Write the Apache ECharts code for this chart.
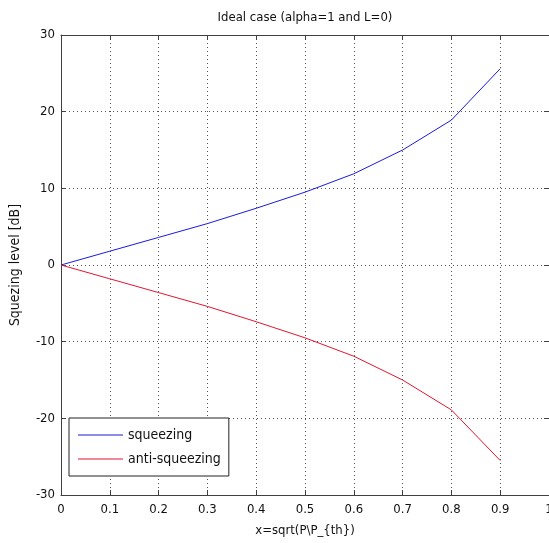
<!DOCTYPE html>
<html>
<head>
<meta charset="utf-8">
<script src="https://cdn.jsdelivr.net/npm/echarts@6/dist/echarts.min.js"></script>
<style>
html,body{margin:0;padding:0;background:#fff;}
#chart{width:549px;height:543px;}
</style>
</head>
<body>
<div id="chart"></div>
<script>
// values
var xValues = [0, 0.1, 0.2, 0.3, 0.4, 0.5, 0.6, 0.7, 0.8, 0.9];
var squeezing = [0, 1.8, 3.6, 5.4, 7.4, 9.5, 11.9, 15.0, 18.9, 25.6];
var antiSqueezing = [0, -1.8, -3.6, -5.4, -7.4, -9.5, -11.9, -15.0, -18.9, -25.5];
var seriesNames = ['squeezing', 'anti-squeezing'];

var font = "'Liberation Sans Narrow', 'DejaVu Sans Condensed', 'Liberation Sans', sans-serif";
var frameColor = '#404040';

function pairs(xs, ys) {
    return xs.map(function (x, i) { return [x, ys[i]]; });
}

var gridLine = {show: true, lineStyle: {color: '#555', width: 1, type: [1, 3]}};

var chart = echarts.init(document.getElementById('chart'));
var option = {
    backgroundColor: '#fff',
    animation: false,
    title: {
        text: 'Ideal case (alpha=1 and L=0)',
        left: 300,
        textAlign: 'center',
        top: 6,
        textStyle: {fontFamily: font, fontSize: 13, fontWeight: 'normal', color: '#111'}
    },
    legend: {
        orient: 'vertical',
        left: 69,
        top: 418,
        backgroundColor: '#fff',
        borderColor: '#222',
        borderWidth: 1,
        borderRadius: 0,
        padding: [10, 8, 10, 9],
        icon: 'rect',
        itemWidth: 45,
        itemHeight: 1,
        itemGap: 10,
        textStyle: {fontFamily: font, fontSize: 14, color: '#111'},
        data: seriesNames
    },
    grid: {left: 61, right: 0, top: 35, bottom: 48, containLabel: false, outerBoundsMode: 'none'},
    xAxis: [{
        type: 'value',
        min: 0,
        max: 1,
        interval: 0.1,
        name: 'x=sqrt(P\\P_{th})',
        nameLocation: 'middle',
        nameGap: 29,
        nameTextStyle: {fontFamily: font, fontSize: 13, color: '#111'},
        axisLine: {show: true, onZero: false, lineStyle: {color: frameColor, width: 1}},
        axisTick: {show: true, inside: true, length: 5, lineStyle: {color: frameColor}},
        axisLabel: {fontFamily: font, fontSize: 13, color: '#111', margin: 8},
        splitLine: gridLine
    }, {
        type: 'value',
        position: 'top',
        min: 0,
        max: 1,
        interval: 0.1,
        axisLine: {show: true, onZero: false, lineStyle: {color: frameColor, width: 1}},
        axisTick: {show: true, inside: true, length: 5, lineStyle: {color: frameColor}},
        axisLabel: {show: false},
        splitLine: {show: false}
    }],
    yAxis: [{
        type: 'value',
        min: -30,
        max: 30,
        interval: 10,
        name: 'Squezing level [dB]',
        nameLocation: 'middle',
        nameGap: 39,
        nameTextStyle: {fontFamily: font, fontSize: 14, color: '#111'},
        axisLine: {show: true, onZero: false, lineStyle: {color: frameColor, width: 1}},
        axisTick: {show: true, inside: true, length: 5, lineStyle: {color: frameColor}},
        axisLabel: {fontFamily: font, fontSize: 13, color: '#111', margin: 6},
        splitLine: gridLine
    }, {
        type: 'value',
        position: 'right',
        min: -30,
        max: 30,
        interval: 10,
        axisLine: {show: true, onZero: false, lineStyle: {color: frameColor, width: 1}},
        axisTick: {show: true, inside: true, length: 5, lineStyle: {color: frameColor}},
        axisLabel: {show: false},
        splitLine: {show: false}
    }],
    series: [{
        name: seriesNames[0],
        type: 'line',
        symbol: 'none',
        color: '#1a1ae0',
        lineStyle: {width: 1, color: '#1a1ae0'},
        data: pairs(xValues, squeezing)
    }, {
        name: seriesNames[1],
        type: 'line',
        symbol: 'none',
        color: '#e3162e',
        lineStyle: {width: 1, color: '#e3162e'},
        data: pairs(xValues, antiSqueezing)
    }]
};
chart.setOption(option);
</script>
</body>
</html>
